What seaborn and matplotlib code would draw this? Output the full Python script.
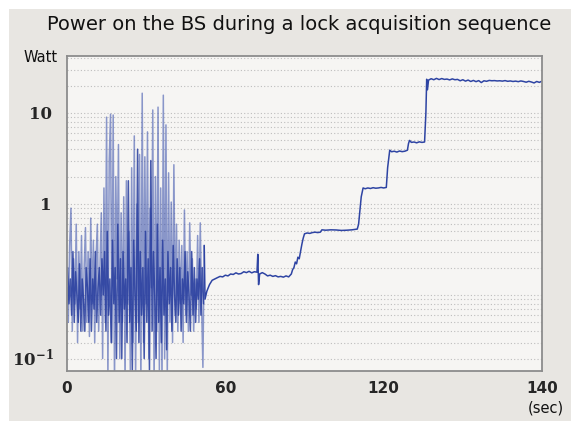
import matplotlib
matplotlib.use("Agg")
import matplotlib.pyplot as plt
import matplotlib.ticker as mticker
from matplotlib.patches import Rectangle
import seaborn as sns
import pandas as pd

# ---------------- data ----------------
title = "Power on the BS during a lock acquisition sequence"
y_unit = "Watt"
x_unit = "(sec)"

# noisy (unlocked) part, time in s and power in W
noise_t = [0.0, 0.5, 1.0, 1.5, 2.0, 2.5, 3.0, 3.5, 4.0, 4.5, 5.0, 5.5, 6.0, 6.5, 7.0, 7.5,
           8.0, 8.5, 9.0, 9.5, 10.0, 10.5, 11.0, 11.5, 12.0, 12.5, 13.0, 13.5, 14.0, 14.5,
           15.0, 15.5, 16.0, 16.5, 17.0, 17.5, 18.0, 18.5, 19.0, 19.5, 20.0, 20.5, 21.0,
           21.5, 22.0, 22.5, 23.0, 23.5, 24.0, 24.5, 25.0, 25.5, 26.0, 26.5, 27.0, 27.5,
           28.0, 28.5, 29.0, 29.5, 30.0, 30.5, 31.0, 31.5, 32.0, 32.5, 33.0, 33.5, 34.0,
           34.5, 35.0, 35.5, 36.0, 36.5, 37.0, 37.5, 38.0, 38.5, 39.0, 39.5, 40.0, 40.5,
           41.0, 41.5, 42.0, 42.5, 43.0, 43.5, 44.0, 44.5, 45.0, 45.5, 46.0, 46.5, 47.0,
           47.5, 48.0, 48.5, 49.0, 49.5, 50.0, 50.5, 51.0, 51.5, 52.0]
noise_w = [0.12, 0.05, 0.35, 0.9, 0.04, 0.25, 0.08, 0.6, 0.03, 0.3, 0.07, 0.45, 0.04, 0.2,
           0.55, 0.05, 0.3, 0.035, 0.7, 0.08, 0.4, 0.03, 0.25, 0.6, 0.04, 0.2, 0.8, 0.02,
           1.5, 0.05, 9.0, 0.012, 3.0, 9.7, 0.03, 9.5, 0.01, 2.0, 0.15, 4.5, 0.02, 0.8,
           0.05, 1.2, 0.01, 1.8, 0.08, 0.5, 0.015, 2.5, 0.03, 5.6, 0.012, 1.0, 0.05, 3.5,
           0.01, 16.5, 0.03, 3.3, 0.08, 6.2, 0.02, 0.9, 0.12, 10.8, 0.01, 2.0, 0.04, 11.6,
           0.015, 1.5, 0.01, 15.7, 0.02, 7.4, 0.012, 2.2, 0.05, 1.05, 0.03, 2.7, 0.06, 0.6,
           0.04, 0.4, 0.08, 0.35, 0.03, 0.86, 0.06, 0.3, 0.04, 0.62, 0.1, 0.25, 0.04, 0.15,
           0.07, 0.45, 0.05, 0.62, 0.08, 0.016, 0.35]

# intermediate samples of the noisy part
noise2_t = [0.25, 0.75, 1.25, 1.75, 2.25, 2.75, 3.25, 3.75, 4.25, 4.75, 5.25, 5.75, 6.25,
            6.75, 7.25, 7.75, 8.25, 8.75, 9.25, 9.75, 10.25, 10.75, 11.25, 11.75, 12.25,
            12.75, 13.25, 13.75, 14.25, 14.75, 15.25, 15.75, 16.25, 16.75, 17.25, 17.75,
            18.25, 18.75, 19.25, 19.75, 20.25, 20.75, 21.25, 21.75, 22.25, 22.75, 23.25,
            23.75, 24.25, 24.75, 25.25, 25.75, 26.25, 26.75, 27.25, 27.75, 28.25, 28.75,
            29.25, 29.75, 30.25, 30.75, 31.25, 31.75, 32.25, 32.75, 33.25, 33.75, 34.25,
            34.75, 35.25, 35.75, 36.25, 36.75, 37.25, 37.75, 38.25, 38.75, 39.25, 39.75,
            40.25, 40.75, 41.25, 41.75, 42.25, 42.75, 43.25, 43.75, 44.25, 44.75, 45.25,
            45.75, 46.25, 46.75, 47.25, 47.75, 48.25, 48.75, 49.25, 49.75, 50.25, 50.75,
            51.25, 51.75]
noise2_w = [0.2, 0.08, 0.15, 0.06, 0.3, 0.05, 0.18, 0.1, 0.05, 0.22, 0.04, 0.15, 0.09,
            0.04, 0.2, 0.12, 0.05, 0.25, 0.04, 0.15, 0.07, 0.3, 0.05, 0.12, 0.2,
            0.06, 0.25, 0.1, 0.3, 0.04, 0.5, 0.06, 0.15, 0.03, 0.4, 0.08,
            0.2, 0.02, 0.6, 0.05, 0.25, 0.02, 0.3, 0.07, 0.15, 0.03, 1.8,
            0.05, 0.2, 0.015, 0.4, 0.1, 0.04, 4.0, 0.03, 0.3, 0.06, 0.2,
            0.02, 0.5, 0.05, 0.25, 0.015, 3.0, 0.04, 0.3, 0.1, 0.02, 0.6,
            0.05, 0.2, 0.03, 0.4, 0.06, 0.15, 0.025, 0.3, 0.08, 0.2, 0.04,
            0.35, 0.1, 0.05, 0.25, 0.06, 0.2, 0.04, 0.15, 0.08, 0.3, 0.05,
            0.18, 0.1, 0.04, 0.3, 0.06, 0.2, 0.05, 0.15, 0.09, 0.25, 0.06,
            0.2, 0.08]

# locked part (step sequence)
lock_t = [52.0, 52.3, 53, 54, 55, 56, 57, 58, 59, 60, 61, 62, 63, 64, 65, 66, 67, 68, 69,
          70, 71, 72, 72.3, 72.6, 73, 74, 75, 76, 77, 78, 79, 80, 81, 82, 83, 84, 85, 85.5,
          86, 86.5, 87, 87.5, 88, 88.5, 89, 89.5, 90, 91, 92, 93, 94, 95, 96, 96.6, 98, 100,
          102, 104, 106, 108, 110, 110.5, 111.5, 112.2, 113, 114, 115, 116, 117, 118, 119,
          120, 121, 121.5, 122.3, 123, 124, 125, 126, 127, 128, 129, 129.4, 129.8, 130.5,
          131.5, 132.5, 133.5, 134.5, 135.5, 136, 136.3, 136.6, 137, 138, 139, 140, 141,
          142, 143, 144, 145, 146, 147, 148, 149, 150, 151, 152, 153, 154, 155, 156, 157,
          158, 159, 160, 161, 162, 163, 164, 165, 166, 167, 168, 169, 170, 171, 172, 173,
          174, 175, 176, 177, 178, 179, 180]
lock_w = [0.35, 0.09, 0.11, 0.13, 0.145, 0.15, 0.155, 0.16, 0.158, 0.165, 0.162, 0.17,
          0.168, 0.175, 0.17, 0.172, 0.18, 0.176, 0.182, 0.175, 0.18, 0.178, 0.28, 0.13,
          0.17, 0.176, 0.17, 0.162, 0.165, 0.16, 0.163, 0.158, 0.16, 0.157, 0.162, 0.158,
          0.17, 0.19, 0.2, 0.23, 0.22, 0.26, 0.25, 0.3, 0.36, 0.42, 0.47, 0.48, 0.475,
          0.485, 0.49, 0.485, 0.49, 0.52, 0.515, 0.52, 0.518, 0.512, 0.515, 0.52, 0.53,
          0.6, 1.2, 1.5, 1.47, 1.5, 1.48, 1.51, 1.49, 1.5, 1.52, 1.5, 1.52, 2.5, 3.9,
          3.75, 3.8, 3.72, 3.82, 3.76, 3.8, 3.9, 4.6, 5.0, 4.75, 4.8, 4.7, 4.82, 4.75,
          4.8, 10.0, 23.5, 18.0, 23.0, 23.8, 23.2, 24.0, 23.3, 23.9, 23.4, 23.6, 23.1,
          23.7, 23.2, 23.4, 22.6, 23.2, 22.4, 23.0, 22.2, 22.8, 22.1, 22.7, 21.6, 22.6,
          22.3, 22.8, 22.6, 22.7, 22.5, 22.6, 22.4, 22.7, 22.3, 22.5, 22.2, 22.4, 22.1,
          22.5, 22.2, 21.8, 22.3, 21.9, 21.4, 22.2, 21.7, 22.4]

x_ticks = [0, 20, 40, 60, 80, 100, 120, 140, 160, 180]
x_tick_labels = ["0", "", "", "60", "", "", "120", "", "", "140"]
y_major = [0.1, 1, 10]
y_major_labels = ["", "1", "10"]
y_extra_label = r"$\mathbf{10^{-1}}$"
y_extra_pos = 0.02

# ---------------- figure ----------------
sns.set_style("white")
plt.rcParams["mathtext.fontset"] = "dejavuserif"

fig = plt.figure(figsize=(5.71, 4.21), dpi=100, facecolor="white")
fig.patches.append(Rectangle((9 / 571, 0), 1, 1 - 9 / 421, transform=fig.transFigure,
                             facecolor="#e8e6e2", edgecolor="none", zorder=-10))
ax = fig.add_axes([67 / 571, 1 - 371 / 421, 475 / 571, 315 / 421])
ax.set_facecolor("#f6f5f3")

noise_df = pd.DataFrame({"t": noise_t, "w": noise_w})
noise2_df = pd.DataFrame({"t": noise2_t, "w": noise2_w})
lock_df = pd.DataFrame({"t": lock_t, "w": lock_w})

sns.lineplot(data=noise_df, x="t", y="w", ax=ax, estimator=None, sort=False,
             color="#3048a8", alpha=0.55, linewidth=1.1)
sns.lineplot(data=noise2_df, x="t", y="w", ax=ax, estimator=None, sort=False,
             color="#263c9e", alpha=0.85, linewidth=1.1)
sns.lineplot(data=lock_df, x="t", y="w", ax=ax, estimator=None, sort=False,
             color="#2e44a3", linewidth=1.1)

ax.set_yscale("log")
ax.set_xlim(0, 180)
ax.set_ylim(0.0146, 42.3)

ax.set_xticks(x_ticks)
ax.set_xticklabels(x_tick_labels, fontsize=11, fontweight="bold", family="DejaVu Sans")
ax.yaxis.set_major_locator(mticker.FixedLocator(y_major))
ax.yaxis.set_major_formatter(mticker.FixedFormatter(y_major_labels))
ax.yaxis.set_minor_locator(mticker.LogLocator(base=10, subs=[2, 3, 4, 5, 6, 7, 8, 9]))
ax.yaxis.set_minor_formatter(mticker.NullFormatter())
for lab in ax.get_yticklabels():
    lab.set_fontsize(12)
    lab.set_fontweight("bold")
    lab.set_family("DejaVu Serif")

ax.tick_params(axis="x", direction="in", length=6, width=1, color="#7a7a7a", pad=7)
ax.tick_params(axis="y", which="major", direction="in", length=12, width=1.2,
               color="#7a7a7a", pad=11)
ax.tick_params(axis="y", which="minor", direction="in", length=6, width=1.2,
               color="#7a7a7a")

ax.yaxis.grid(True, which="both", linestyle=(0, (1, 2)), color="#bdbdbd", linewidth=0.8)
ax.xaxis.grid(False)
ax.set_axisbelow(True)

for s in ax.spines.values():
    s.set_color("#8c8c8c")
    s.set_linewidth(1.3)

ax.set_xlabel("")
ax.set_ylabel("")

ax.text(-0.028, y_extra_pos, y_extra_label, transform=ax.get_yaxis_transform(),
        ha="right", va="center", fontsize=12)

fig.text(299 / 571, 1 - 24 / 421, title, ha="center", va="center", fontsize=14,
         family="DejaVu Sans", color="#111111")
fig.text(58 / 571, 1 - 58 / 421, y_unit, ha="right", va="center", fontsize=10.5,
         family="DejaVu Sans", color="#111111")
fig.text(564 / 571, 1 - 408 / 421, x_unit, ha="right", va="center", fontsize=10.5,
         family="DejaVu Sans", color="#111111")

fig.savefig("out.png", dpi=100, facecolor=fig.get_facecolor())
